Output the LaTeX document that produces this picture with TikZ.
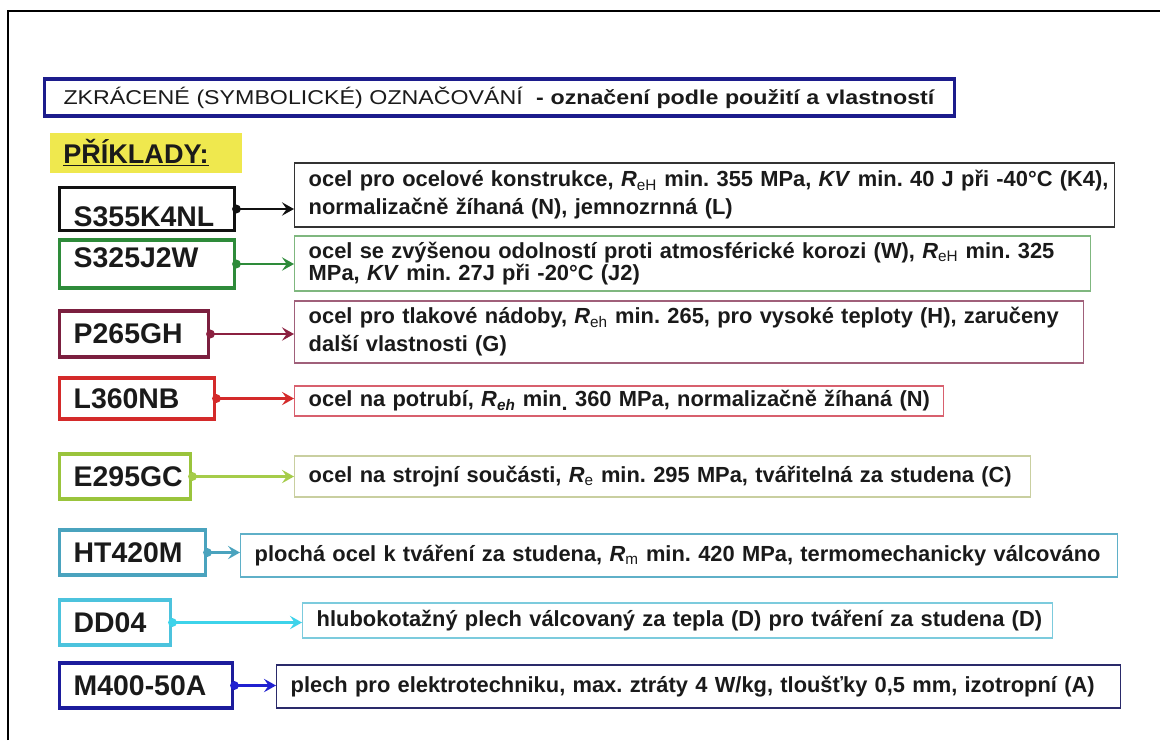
\documentclass[tikz,border=0pt]{standalone}
\usepackage{fontspec}
\setmainfont{Liberation Sans}
\newfontfamily\titlefont[FakeStretch=1.16]{Liberation Sans}
\usetikzlibrary{arrows.meta}
\frenchspacing
\newlength\pxu
\setlength\pxu{0.75pt}
\definecolor{txt}{HTML}{1A1A1A}
\definecolor{navy}{HTML}{1C1C8C}
\definecolor{yel}{HTML}{EFE84E}
\definecolor{cA}{HTML}{111111}\definecolor{dA}{HTML}{333333}\definecolor{aA}{HTML}{111111}
\definecolor{cB}{HTML}{2E8B3A}\definecolor{dB}{HTML}{7FB77F}\definecolor{aB}{HTML}{2E8B3A}
\definecolor{cC}{HTML}{7B1F3F}\definecolor{dC}{HTML}{A0607A}\definecolor{aC}{HTML}{8B2040}
\definecolor{cD}{HTML}{D42A2A}\definecolor{dD}{HTML}{D8606E}\definecolor{aD}{HTML}{D42A2A}
\definecolor{cE}{HTML}{9AC43C}\definecolor{dE}{HTML}{C9CFA0}\definecolor{aE}{HTML}{A5CC4A}
\definecolor{cF}{HTML}{4AA3BE}\definecolor{dF}{HTML}{5FB0C8}\definecolor{aF}{HTML}{4AA3BE}
\definecolor{cG}{HTML}{4CC3DD}\definecolor{dG}{HTML}{7CCBDD}\definecolor{aG}{HTML}{3DD3EA}
\definecolor{cH}{HTML}{1C1C9C}\definecolor{dH}{HTML}{2A2A6A}\definecolor{aH}{HTML}{2020D0}
\newcommand\sbs[1]{\textsubscript{\mdseries\upshape #1}}
\newcommand\sbi[1]{\textsubscript{\itshape #1}}
\newcommand\RR{\textit{R}}
\begin{document}
\begin{tikzpicture}[x=0.75pt,y=-0.75pt,
  codebox/.style={draw, line width=2.6pt, anchor=west, inner xsep=14\pxu, inner ysep=0pt,
    align=left, text=txt, font=\fontsize{21.3}{25}\selectfont\bfseries},
  descbox/.style={draw, line width=1.1pt, anchor=west, inner xsep=14\pxu, inner ysep=0pt,
    align=left, text=txt, font=\fontsize{16.4}{21}\selectfont\bfseries},
  conn/.style={line width=1.6pt, -{Stealth[length=9pt,width=10pt,inset=3.5pt]}}
]
\useasboundingbox (0,0) rectangle (1160,740);
% outer frame
\draw[line width=1.9pt] (8,740) -- (8,11) -- (1160,11);
% title
\node[draw=navy, line width=2.3pt, anchor=west, minimum width=910\pxu, minimum height=37\pxu,
  inner xsep=19\pxu, inner ysep=0pt, text width=872\pxu, align=left, text=txt,
  font=\titlefont\fontsize{15}{18}\selectfont] (title) at (43,97.5)
  {\mbox{ZKRÁCENÉ (SYMBOLICKÉ) OZNAČOVÁNÍ\ \ \textbf{- označení podle použití a vlastností}}};
% examples label
\node[fill=yel, anchor=west, minimum width=192\pxu, minimum height=40\pxu, inner xsep=13\pxu,
  text width=166\pxu, align=left, text=txt, font=\fontsize{20.3}{24}\selectfont\bfseries]
  (ex) at (50,153) {\underline{PŘÍKLADY:}};

% row 1
\node[codebox, draw=cA, minimum height=43\pxu, text width=147\pxu, text height=36\pxu, text depth=2\pxu] (c1) at (58,209) {S355K4NL};
\node[descbox, draw=dA, minimum height=64\pxu, text width=792\pxu] (d1) at (294,195)
  {\mbox{ocel pro ocelové konstrukce, \RR\sbs{eH} min. 355 MPa, \textit{KV} min. 40 J při -40°C (K4),}\\
   \mbox{normalizačně žíhaná (N), jemnozrnná (L)}};
\draw[conn, aA] (c1.east) -- (c1.east -| d1.west);
\fill[aA] (c1.east) circle (3.3pt);

% row 2
\node[codebox, draw=cB, minimum height=48\pxu, text width=147\pxu, text height=20.5\pxu, text depth=14.5\pxu] (c2) at (58,264) {S325J2W};
\node[descbox, draw=dB, minimum height=55\pxu, text width=768\pxu, font=\fontsize{16.4}{16.5}\selectfont\bfseries] (d2) at (294,263.5)
  {\mbox{ocel se zvýšenou odolností proti atmosférické korozi (W), \RR\sbs{eH} min. 325}\\
   \mbox{MPa, \textit{KV} min. 27J při -20°C (J2)}};
\draw[conn, aB] (c2.east) -- (c2.east -| d2.west);
\fill[aB] (c2.east) circle (3.3pt);

% row 3
\node[codebox, draw=cC, minimum height=46\pxu, text width=121\pxu] (c3) at (58,334) {P265GH};
\node[descbox, draw=dC, minimum height=62\pxu, text width=761\pxu] (d3) at (294,332)
  {\mbox{ocel pro tlakové nádoby, \RR\sbs{eh} min. 265, pro vysoké teploty (H), zaručeny}\\
   \mbox{další vlastnosti (G)}};
\draw[conn, aC] (c3.east) -- (c3.east -| d3.west);
\fill[aC] (c3.east) circle (3.3pt);

% row 4
\node[codebox, draw=cD, minimum height=41\pxu, text width=127\pxu] (c4) at (58,398.5) {L360NB};
\node[descbox, draw=dD, minimum height=30\pxu, text width=621\pxu] (d4) at (294,401)
  {\mbox{ocel na potrubí, \RR\sbi{eh} min\raisebox{-4\pxu}{.} 360 MPa, normalizačně žíhaná (N)}};
\draw[conn, aD] (c4.east) -- (c4.east -| d4.west);
\fill[aD] (c4.east) circle (3.3pt);

% row 5
\node[codebox, draw=cE, minimum height=45\pxu, text width=103\pxu] (c5) at (58,476.5) {E295GC};
\node[descbox, draw=dE, minimum height=41\pxu, text width=708\pxu] (d5) at (294,476.5)
  {\mbox{ocel na strojní součásti, \RR\sbs{e} min. 295 MPa, tvářitelná za studena (C)}};
\draw[conn, aE] (c5.east) -- (c5.east -| d5.west);
\fill[aE] (c5.east) circle (3.3pt);

% row 6
\node[codebox, draw=cF, minimum height=45\pxu, text width=118\pxu] (c6) at (58,552.5) {HT420M};
\node[descbox, draw=dF, minimum height=43\pxu, text width=849\pxu] (d6) at (240,555.5)
  {\mbox{plochá ocel k tváření za studena, \RR\sbs{m} min. 420 MPa, termomechanicky válcováno}};
\draw[conn, aF] (c6.east) -- (c6.east -| d6.west);
\fill[aF] (c6.east) circle (3.3pt);

% row 7
\node[codebox, draw=cG, minimum height=45\pxu, text width=83\pxu] (c7) at (58,622.5) {DD04};
\node[descbox, draw=dG, minimum height=35\pxu, text width=722\pxu] (d7) at (302,620.5)
  {\mbox{hlubokotažný plech válcovaný za tepla (D) pro tváření za studena (D)}};
\draw[conn, aG] (c7.east) -- (c7.east -| d7.west);
\fill[aG] (c7.east) circle (3.3pt);

% row 8
\node[codebox, draw=cH, minimum height=45\pxu, text width=145\pxu] (c8) at (58,685.5) {M400-50A};
\node[descbox, draw=dH, minimum height=43\pxu, text width=816\pxu] (d8) at (276,686.5)
  {\mbox{plech pro elektrotechniku, max. ztráty 4 W/kg, tloušťky 0,5 mm, izotropní (A)}};
\draw[conn, aH] (c8.east) -- (c8.east -| d8.west);
\fill[aH] (c8.east) circle (3.3pt);
\end{tikzpicture}
\end{document}
